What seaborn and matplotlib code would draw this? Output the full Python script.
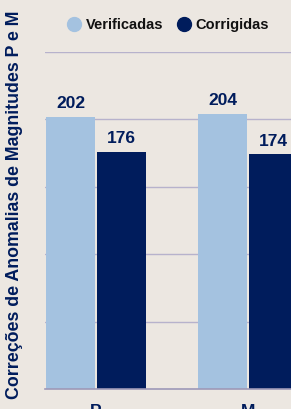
import matplotlib
matplotlib.use("Agg")
import matplotlib.pyplot as plt
import pandas as pd
import seaborn as sns

categories = ["P", "M"]
series_names = ["Verificadas", "Corrigidas"]
verificadas = [202, 204]
corrigidas = [176, 174]

bg = "#ece7e1"
navy = "#001c5c"
light = "#a4c2e0"
grid_col = "#b7b2cc"

df = pd.DataFrame({
    "cat": categories * 2,
    "serie": [series_names[0]] * 2 + [series_names[1]] * 2,
    "valor": verificadas + corrigidas,
})

sns.set_style("white")
plt.rcParams["font.family"] = ["Liberation Sans", "DejaVu Sans"]

fig = plt.figure(figsize=(2.91, 4.09), dpi=100, facecolor=bg)
ax = fig.add_axes([45 / 291, 20 / 409, 246 / 291, 337 / 409])
ax.set_facecolor(bg)

sns.barplot(data=df, x="cat", y="valor", hue="serie", hue_order=series_names,
            palette=[light, navy], saturation=1, width=0.67, gap=0.04,
            linewidth=0, ax=ax, legend=False, zorder=2)

for cont in ax.containers:
    ax.bar_label(cont, padding=4, fontsize=12.5, fontweight="bold", color=navy)

ax.set_ylim(0, 250)
ax.set_yticks([50, 100, 150, 200, 250])
ax.yaxis.grid(True, color=grid_col, linewidth=1, zorder=0)
ax.set_axisbelow(True)
ax.tick_params(axis="y", left=False, labelleft=False)
ax.tick_params(axis="x", bottom=False, pad=7, labelsize=12.5, labelcolor=navy)
for lab in ax.get_xticklabels():
    lab.set_fontweight("bold")
ax.set_xlim(-0.335, 1.283)
ax.set_xlabel("")
ax.set_ylabel("")
for s in ["top", "right", "left"]:
    ax.spines[s].set_visible(False)
ax.spines["bottom"].set_color("#9d98b8")
ax.spines["bottom"].set_linewidth(1.2)

handles = [plt.Line2D([], [], marker="o", linestyle="", markersize=10,
                      markerfacecolor=c, markeredgecolor=c) for c in (light, navy)]
leg = ax.legend(handles, series_names, loc="center", bbox_to_anchor=(0.5, 1.08),
                ncol=2, frameon=False, handlelength=1.0, handletextpad=0.3,
                columnspacing=0.9, prop={"weight": "bold", "size": 10.5})
for t in leg.get_texts():
    t.set_color("#111111")

fig.text(15 / 291, 1 - 205 / 409, "Correções de Anomalias de Magnitudes P e M",
         rotation=90, ha="center", va="center", fontsize=12.8,
         fontweight="bold", color=navy)

fig.savefig("out.png", dpi=100, facecolor=bg)
